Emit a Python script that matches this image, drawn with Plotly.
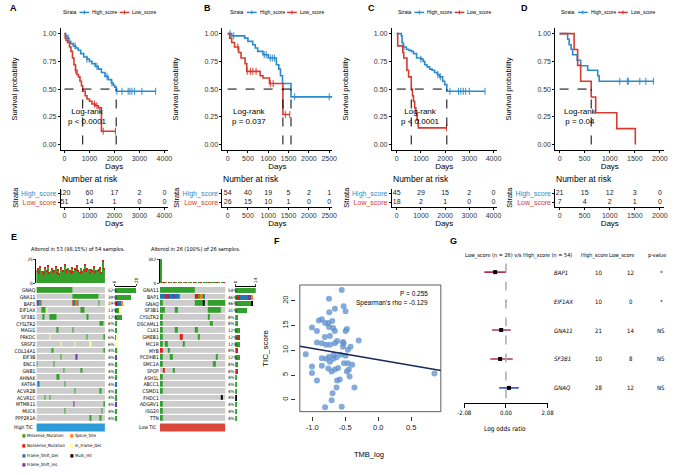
import numpy as np
import plotly.graph_objects as go

W, H = 676, 475
def fx(p): return p / W
def fy(p): return 1 - p / H

FONT = "Liberation Sans, Arial, sans-serif"
NARROW = "Liberation Sans Narrow, DejaVu Sans Condensed, Liberation Sans, sans-serif"
BLUE = "#2E8BC9"
RED = "#D63B2F"

# ---------------- survival data (A-D) ----------------
A_HIGH_T = [0, 50, 100, 180, 250, 350, 450, 550, 650, 770, 900, 1000, 1100, 1230, 1350, 1480, 1620, 1750, 1880, 1950, 2010, 2070, 3650]
A_HIGH_S = [1.0, 0.98, 0.96, 0.93, 0.91, 0.89, 0.87, 0.85, 0.82, 0.79, 0.77, 0.75, 0.73, 0.705, 0.68, 0.65, 0.615, 0.585, 0.555, 0.535, 0.518, 0.48, 0.48]
A_LOW_T = [0, 30, 60, 120, 200, 260, 320, 380, 440, 500, 560, 620, 680, 730, 830, 900, 1000, 1100, 1250, 1360, 1480, 2040]
A_LOW_S = [1.0, 0.96, 0.94, 0.92, 0.88, 0.84, 0.78, 0.72, 0.67, 0.63, 0.61, 0.57, 0.53, 0.48, 0.44, 0.41, 0.39, 0.365, 0.35, 0.33, 0.12, 0.12]
A_HIGH_CENS = [150, 420, 900, 1300, 1700, 1900, 2100, 2300, 2550, 2620, 2700, 2800, 3100, 3650]
A_LOW_CENS = [450, 1200, 1300, 1550, 2040]
A_RISK_HIGH = [120, 60, 17, 2, 0]
A_RISK_LOW = [51, 14, 1, 0, 0]
A_TICKS = [0, 1000, 2000, 3000, 4000]

B_HIGH_T = [0, 100, 420, 500, 620, 680, 740, 870, 1000, 1200, 1260, 1300, 1350, 1560, 2600]
B_HIGH_S = [1.0, 0.98, 0.96, 0.93, 0.90, 0.87, 0.84, 0.81, 0.78, 0.72, 0.68, 0.62, 0.55, 0.43, 0.43]
B_LOW_T = [0, 50, 100, 170, 270, 330, 430, 470, 750, 800, 870, 1030, 1360, 1530]
B_LOW_S = [1.0, 0.96, 0.92, 0.88, 0.83, 0.78, 0.73, 0.66, 0.66, 0.62, 0.60, 0.55, 0.27, 0.27]
B_HIGH_CENS = [60, 150, 900, 950, 1050, 1100, 1150, 1650, 2500, 2600]
B_LOW_CENS = [250, 480, 560, 620, 700, 1050, 1120, 1420, 1530]
B_RISK_HIGH = [54, 40, 19, 5, 2, 1]
B_RISK_LOW = [26, 15, 10, 1, 0, 0]
B_TICKS = [0, 500, 1000, 1500, 2000, 2500]

C_HIGH_T = [0, 190, 220, 260, 400, 490, 600, 690, 820, 1000, 1090, 1160, 1250, 1360, 1460, 1565, 1680, 1770, 1900, 1980, 2070, 3650]
C_HIGH_S = [1.0, 0.98, 0.92, 0.88, 0.86, 0.85, 0.84, 0.82, 0.78, 0.77, 0.75, 0.72, 0.70, 0.68, 0.67, 0.65, 0.63, 0.61, 0.57, 0.54, 0.48, 0.48]
C_LOW_T = [0, 40, 250, 290, 420, 490, 600, 650, 690, 740, 790, 840, 890, 2060]
C_LOW_S = [1.0, 0.89, 0.83, 0.78, 0.67, 0.61, 0.50, 0.44, 0.39, 0.33, 0.28, 0.22, 0.15, 0.15]
C_HIGH_CENS = [300, 1000, 1700, 1800, 2200, 2550, 2650, 2750, 2850, 3000, 3650]
C_LOW_CENS = [2060]
C_RISK_HIGH = [45, 29, 15, 2, 0]
C_RISK_LOW = [18, 2, 1, 0, 0]
C_TICKS = [0, 1000, 2000, 3000, 4000]

D_HIGH_T = [0, 160, 190, 230, 260, 350, 420, 560, 760, 790, 1870]
D_HIGH_S = [1.0, 0.95, 0.90, 0.86, 0.81, 0.76, 0.71, 0.67, 0.62, 0.57, 0.57]
D_LOW_T = [0, 290, 360, 420, 630, 720, 1140, 1510]
D_LOW_S = [1.0, 0.857, 0.714, 0.571, 0.429, 0.286, 0.143, 0.0]
D_HIGH_CENS = [1200, 1350, 1370, 1600, 1720, 1870]
D_LOW_CENS = []
D_RISK_HIGH = [21, 15, 12, 3, 0]
D_RISK_LOW = [7, 4, 2, 1, 0]
D_TICKS = [0, 500, 1000, 1500, 2000]

PVALUES = ["p < 0.0001", "p = 0.037", "p < 0.0001", "p = 0.04"]

# ---------------- oncoplot data (E) ----------------
LEFT_GENES = ["GNAQ", "GNA11", "BAP1", "EIF1AX", "SF3B1", "CYSLTR2", "MAGI1", "PRKDC", "SRSF2", "COL14A1",
              "EIF3B", "ENC1", "GNB1", "AHNAK", "KAT6A", "ACVR2B", "ACVR1C", "MTMR11", "MUC6", "PPP2R1A"]
LEFT_SEGS = [
    [(0, 27, 'M')],
    [(28, 48, 'M')],
    [(0, 0, 'N'), (1, 1, 'D'), (2, 2, 'S'), (3, 3, 'D'), (28, 28, 'N'), (29, 29, 'M'), (30, 30, 'D'), (31, 31, 'S'), (32, 32, 'D'), (49, 49, 'M')],
    [(4, 6, 'M'), (8, 8, 'F'), (35, 37, 'M')],
    [(5, 5, 'M'), (10, 15, 'M'), (39, 40, 'M')],
    [(50, 52, 'M')],
    [(16, 16, 'M'), (28, 28, 'M')],
    [(10, 10, 'F'), (39, 39, 'M'), (53, 53, 'M')],
    [(19, 19, 'F'), (30, 30, 'F'), (42, 42, 'F')],
    [(12, 12, 'M'), (53, 53, 'M')],
    [(19, 19, 'M'), (31, 31, 'I')],
    [(0, 0, 'M'), (13, 13, 'M')],
    [(21, 21, 'M'), (35, 35, 'M')],
    [(16, 17, 'M')],
    [(1, 1, 'D'), (22, 22, 'M')],
    [(30, 30, 'M'), (50, 50, 'M')],
    [(6, 6, 'M'), (10, 10, 'M')],
    [(29, 29, 'I'), (53, 53, 'M')],
    [(22, 22, 'M'), (51, 51, 'M')],
    [(42, 42, 'M'), (50, 50, 'M')],
]
LEFT_N = 54
LEFT_TMB_MISSENSE = [12, 14, 10, 16, 13, 11, 9, 15, 12, 17, 10, 13, 14, 11, 12, 16, 10, 13, 9, 15, 14, 12, 18, 11, 13, 16, 12,
                     10, 15, 11, 14, 13, 17, 12, 10, 16, 11, 13, 18, 12, 14, 15, 10, 13, 12, 16, 11, 14, 12, 13, 15, 10, 22, 14]
LEFT_TMB_OTHER = [2, 1, 3, 1, 0, 2, 1, 2, 1, 1, 2, 0, 1, 2, 1, 1, 2, 1, 1, 2, 0, 1, 1, 2, 1, 0, 2,
                  3, 1, 2, 1, 1, 2, 1, 1, 0, 2, 1, 1, 1, 2, 0, 1, 1, 2, 1, 1, 0, 2, 1, 1, 1, 2, 1]

RIGHT_GENES = ["GNA11", "BAP1", "GNAQ", "SF3B1", "CYSLTR2", "DSCAML1", "CLK1", "GMEB1", "MC1R", "MYB",
               "PCDHB1", "SMC1A", "SPOP", "ASH1L", "ABCC1", "CSMD1", "FHDC1", "ADGRV1", "ISG20", "TTN"]
RIGHT_SEGS = [
    [(0, 13, 'M')],
    [(0, 1, 'D'), (2, 2, 'N'), (3, 3, 'I'), (4, 4, 'D'), (5, 5, 'I'), (6, 7, 'D'), (14, 14, 'N'), (15, 15, 'M'), (16, 16, 'S'), (17, 17, 'D')],
    [(0, 0, 'M'), (14, 16, 'M'), (17, 17, 'H'), (19, 25, 'M')],
    [(0, 1, 'M'), (6, 6, 'M'), (19, 23, 'M')],
    [(0, 0, 'M'), (19, 19, 'M')],
    [(0, 0, 'M'), (20, 20, 'M')],
    [(0, 0, 'M'), (6, 6, 'M'), (14, 14, 'M')],
    [(0, 0, 'M'), (8, 8, 'N'), (15, 15, 'M')],
    [(0, 0, 'M'), (2, 2, 'M'), (9, 9, 'M')],
    [(0, 0, 'N'), (3, 3, 'M')],
    [(0, 0, 'M'), (4, 4, 'M'), (22, 22, 'M')],
    [(0, 0, 'M'), (21, 21, 'M')],
    [(1, 1, 'N'), (5, 5, 'M')],
    [(0, 0, 'M')],
    [(0, 0, 'M')],
    [(0, 0, 'M')],
    [(24, 24, 'H')],
    [(0, 0, 'M')],
    [(0, 0, 'M')],
    [(0, 0, 'M')],
]
RIGHT_N = 26
RIGHT_TMB_MISSENSE = [290, 8, 5, 6, 4, 7, 5, 6, 4, 5, 6, 4, 5, 7, 6, 5, 4, 6, 5, 4, 6, 5, 7, 4, 5, 6]
RIGHT_TMB_OTHER = [12, 1, 0, 1, 0, 1, 0, 0, 1, 0, 1, 0, 0, 1, 0, 0, 1, 0, 0, 1, 0, 0, 1, 0, 0, 1]

VAR_CODES = ['M', 'N', 'D', 'I', 'S', 'F', 'H']
VAR_NAMES = ["Missense_Mutation", "Nonsense_Mutation", "Frame_Shift_Del", "Frame_Shift_Ins",
             "Splice_Site", "In_Frame_Del", "Multi_Hit"]
VAR_COLORS = ["#33A02C", "#E31A1C", "#1F78B4", "#6A3D9A", "#FF7F00", "#FFFF99", "#000000"]
NONE_COLOR = "#CCCCCC"

# ---------------- scatter data (F) ----------------
F_TMB_LOG = [-0.554, -0.747, -0.658, -0.743, -0.525, -0.495, -0.856, -0.807, -0.757, -0.698, -0.747, -0.683, -0.658,
             -0.811, -0.733, -0.856, -0.792, -0.733, -0.658, -0.624, -0.535, -0.525, -0.475, -0.495, -0.42, -0.297,
             -0.535, -0.46, -0.495, -0.569, -0.633, -0.673, -0.743, -0.792, -0.856, -0.733, -0.683, -0.856, -0.757,
             -0.707, -0.658, -0.609, -0.52, -0.46, -0.395, -0.446, -0.435, -0.475, -0.584, -0.624, -0.633, -0.693,
             -0.707, -0.807, -0.554, -0.361, 0.853, -1.005, -0.93, -0.93, -1.10, -1.005, -1.005, -0.93, -0.90]
F_TIC_SCORE = [22.2, 20.4, 18.4, 17.7, 18.9, 17.9, 16.3, 15.5, 15.5, 15.9, 14.7, 14.5, 13.9,
               12.7, 12.9, 11.4, 11.1, 11.1, 11.4, 11.9, 11.7, 11.4, 14.3, 13.9, 10.7, 12.0,
               10.7, 10.1, 8.9, 9.1, 8.6, 9.1, 8.7, 8.3, 8.4, 7.7, 8.3, 6.9, 6.3,
               5.7, 6.1, 6.4, 7.4, 7.4, 7.1, 6.1, 4.7, 5.7, 4.1, 3.9, 2.5, 1.3,
               -0.1, -1.5, -1.4, 2.5, 5.3, 14.6, 13.9, 11.6, 9.2, 6.7, 5.4, 3.9, 16.0]
F_FIT_SLOPE = -2.29
F_FIT_INTERCEPT = 8.07
F_XRANGE = [-1.19, 0.95]

# ---------------- forest data (G) ----------------
G_GENES = ["BAP1", "EIF1AX", "GNA11", "SF3B1", "GNAQ"]
G_EST = [-0.54, 2.17, -0.24, -0.29, 0.15]
G_LO = [-1.08, -0.03, -0.69, -0.78, -0.34]
G_HI = [0.0, 0.03, 0.24, 0.34, 0.64]
G_HIGH = [10, 10, 21, 10, 28]
G_LOW = [12, 0, 14, 8, 12]
G_P = ["*", "*", "NS", "NS", "NS"]
G_COLORS = ["#B0325A", "#3B5FC0", "#B0325A", "#B0325A", "#3B5FC0"]

# =====================================================
fig = go.Figure()
layout = {}
annotations = []
shapes = []

def axn(n, kind):
    return kind + ('' if n == 1 else str(n))

def lkey(n, kind):
    return kind + 'axis' + ('' if n == 1 else str(n))

def step_at(T, S, t):
    v = S[0]
    for ti, si in zip(T, S):
        if ti <= t:
            v = si
    return v

def median_time(T, S):
    for ti, si in zip(T, S):
        if si <= 0.5:
            return ti
    return None

def ann(x, y, text, size=7, xanchor='center', yanchor='middle', xref='paper', yref='paper', font=FONT,
        color='black', textangle=0):
    annotations.append(dict(x=x, y=y, text=text, xref=xref, yref=yref, showarrow=False, xanchor=xanchor,
                            yanchor=yanchor, textangle=textangle, font=dict(size=size, family=font, color=color)))

SURV = [
    dict(lab='A', labx=1, k=1, xl=55, xr=164, rng=(-145, 4129), ticks=A_TICKS, hT=A_HIGH_T, hS=A_HIGH_S, lT=A_LOW_T,
         lS=A_LOW_S, hC=A_HIGH_CENS, lC=A_LOW_CENS, rh=A_RISK_HIGH, rl=A_RISK_LOW, pv=PVALUES[0], px=80, leg=55),
    dict(lab='B', labx=199, k=3, xl=220, xr=332, rng=(-128, 2572), ticks=B_TICKS, hT=B_HIGH_T, hS=B_HIGH_S, lT=B_LOW_T,
         lS=B_LOW_S, hC=B_HIGH_CENS, lC=B_LOW_CENS, rh=B_RISK_HIGH, rl=B_RISK_LOW, pv=PVALUES[1], px=60, leg=226),
    dict(lab='C', labx=367, k=5, xl=393, xr=500, rng=(-202, 4130), ticks=C_TICKS, hT=C_HIGH_T, hS=C_HIGH_S, lT=C_LOW_T,
         lS=C_LOW_S, hC=C_HIGH_CENS, lC=C_LOW_CENS, rh=C_RISK_HIGH, rl=C_RISK_LOW, pv=PVALUES[2], px=80, leg=397),
    dict(lab='D', labx=523, k=7, xl=560, xr=671, rng=(-84, 2084), ticks=D_TICKS, hT=D_HIGH_T, hS=D_HIGH_S, lT=D_LOW_T,
         lS=D_LOW_S, hC=D_HIGH_CENS, lC=D_LOW_CENS, rh=D_RISK_HIGH, rl=D_RISK_LOW, pv=PVALUES[3], px=50, leg=564),
]

for P in SURV:
    k = P['k']
    xs, ys = axn(k, 'x'), axn(k, 'y')
    xr_, yr_ = axn(k + 1, 'x'), axn(k + 1, 'y')
    common_x = dict(domain=[fx(P['xl']), fx(P['xr'])], range=list(P['rng']), tickvals=P['ticks'],
                    showline=True, linecolor='black', linewidth=1, ticks='outside', ticklen=2, tickcolor='black',
                    tickfont=dict(size=7, family=FONT, color='#333'), showgrid=False, zeroline=False,
                    title=dict(text='Days', font=dict(size=8, family=FONT), standoff=0))
    layout[lkey(k, 'x')] = dict(common_x, anchor=ys)
    layout[lkey(k, 'y')] = dict(domain=[fy(149.6), fy(26.4)], range=[-0.05, 1.05], anchor=xs,
                                tickvals=[0, 0.25, 0.5, 0.75, 1.0], ticktext=['0.00', '0.25', '0.50', '0.75', '1.00'],
                                showline=True, linecolor='black', linewidth=1, ticks='outside', ticklen=2,
                                tickcolor='black', tickfont=dict(size=7, family=FONT, color='#333'),
                                showgrid=False, zeroline=False,
                                title=dict(text='Survival probability', font=dict(size=7.5, family=FONT), standoff=24))
    layout[lkey(k + 1, 'x')] = dict(common_x, anchor=yr_)
    layout[lkey(k + 1, 'y')] = dict(domain=[fy(207), fy(188.5)], range=[0.5, 2.5], anchor=xr_,
                                    tickvals=[1, 2],
                                    ticktext=[f"<span style='color:{RED}'>Low_score</span>",
                                              f"<span style='color:{BLUE}'>High_score</span>"],
                                    showline=True, linecolor='black', linewidth=1, ticks='outside', ticklen=2,
                                    tickcolor='black', tickfont=dict(size=7, family=FONT),
                                    showgrid=False, zeroline=False,
                                    title=dict(text='Strata', font=dict(size=7.5, family=FONT), standoff=1))
    for T, S, C, col in [(P['hT'], P['hS'], P['hC'], BLUE), (P['lT'], P['lS'], P['lC'], RED)]:
        fig.add_trace(go.Scatter(x=T, y=S, mode='lines', line=dict(color=col, width=1.6, shape='hv'),
                                 xaxis=xs, yaxis=ys, showlegend=False, hoverinfo='skip'))
        if C:
            fig.add_trace(go.Scatter(x=C, y=[step_at(T, S, t) for t in C], mode='markers',
                                     marker=dict(symbol='line-ns', size=5, line=dict(color=col, width=1)),
                                     xaxis=xs, yaxis=ys, showlegend=False, hoverinfo='skip'))
    meds = [m for m in [median_time(P['hT'], P['hS']), median_time(P['lT'], P['lS'])] if m is not None]
    if meds:
        fig.add_trace(go.Scatter(x=[0, max(meds)], y=[0.5, 0.5], mode='lines',
                                 line=dict(color='black', width=1, dash='dash'),
                                 xaxis=xs, yaxis=ys, showlegend=False, hoverinfo='skip'))
        for m in meds:
            fig.add_trace(go.Scatter(x=[m, m], y=[0, 0.5], mode='lines',
                                     line=dict(color='black', width=1, dash='dash'),
                                     xaxis=xs, yaxis=ys, showlegend=False, hoverinfo='skip'))
    ann(P['px'], 0.25, 'Log-rank<br>' + P['pv'], size=8, xanchor='left', xref=xs, yref=ys)
    fig.add_trace(go.Scatter(x=P['ticks'], y=[2] * len(P['ticks']), text=[str(v) for v in P['rh']], mode='text',
                             textfont=dict(size=7, family=FONT, color='#222'), xaxis=xr_, yaxis=yr_,
                             showlegend=False, hoverinfo='skip'))
    fig.add_trace(go.Scatter(x=P['ticks'], y=[1] * len(P['ticks']), text=[str(v) for v in P['rl']], mode='text',
                             textfont=dict(size=7, family=FONT, color='#222'), xaxis=xr_, yaxis=yr_,
                             showlegend=False, hoverinfo='skip'))
    ann(fx(P['xl'] - 1), fy(179), 'Number at risk', size=8.5, xanchor='left')
    ann(fx(P['labx']), fy(6), '<b>' + P['lab'] + '</b>', size=9, xanchor='left')
    L = P['leg']
    ann(fx(L), fy(10.5), 'Strata', size=5, xanchor='left')
    for off, col, txt in [(19, BLUE, 'High_score'), (60, RED, 'Low_score')]:
        shapes.append(dict(type='line', xref='paper', yref='paper', x0=fx(L + off), x1=fx(L + off + 10),
                           y0=fy(10.5), y1=fy(10.5), line=dict(color=col, width=1.5)))
        shapes.append(dict(type='line', xref='paper', yref='paper', x0=fx(L + off + 5), x1=fx(L + off + 5),
                           y0=fy(8.5), y1=fy(12.5), line=dict(color=col, width=1)))
        ann(fx(L + off + 11), fy(10.5), txt, size=5, xanchor='left')

# =============== E: oncoplots ===============
def build_matrix(segs, n):
    z = []
    for row in segs:
        r = [0] * n
        for a, b, c in row:
            for j in range(a, b + 1):
                r[j] = VAR_CODES.index(c) + 1
        z.append(r)
    return z

cs = []
allc = [NONE_COLOR] + VAR_COLORS
for i, c in enumerate(allc):
    cs.append([i / len(allc), c])
    cs.append([(i + 1) / len(allc), c])

def oncoplot(kbar, kmat, kside, genes, segs, n, tmb_m, tmb_o, xl, xr, sl, sr, tmax, smax, title, tx, grp, grpcol):
    xb, yb = axn(kbar, 'x'), axn(kbar, 'y')
    xm, ym = axn(kmat, 'x'), axn(kmat, 'y')
    xsd, ysd = axn(kside, 'x'), axn(kside, 'y')
    samples = list(range(n))
    layout[lkey(kbar, 'x')] = dict(domain=[fx(xl), fx(xr)], range=[-0.5, n - 0.5], visible=False, anchor=yb)
    layout[lkey(kbar, 'y')] = dict(domain=[fy(284), fy(260)], range=[0, tmax], anchor=xb, tickvals=[0, tmax],
                                   showline=True, linecolor='black', linewidth=0.8, ticks='outside', ticklen=2,
                                   tickfont=dict(size=4.5, family=NARROW), showgrid=False, zeroline=False)
    fig.add_trace(go.Bar(x=samples, y=tmb_m, marker=dict(color=VAR_COLORS[0], line=dict(width=0)), width=0.85,
                         xaxis=xb, yaxis=yb, showlegend=False, hoverinfo='skip'))
    fig.add_trace(go.Bar(x=samples, y=tmb_o, marker=dict(color=VAR_COLORS[1], line=dict(width=0)), width=0.85,
                         xaxis=xb, yaxis=yb, showlegend=False, hoverinfo='skip'))
    z = build_matrix(segs, n)
    layout[lkey(kmat, 'x')] = dict(domain=[fx(xl), fx(xr)], range=[-0.5, n - 0.5], visible=False, anchor=ym)
    layout[lkey(kmat, 'y')] = dict(domain=[fy(424), fy(288)], range=[len(genes) - 0.5, -0.5], anchor=xm,
                                   tickvals=list(range(len(genes))), ticktext=genes, ticks='', ticklen=0,
                                   tickfont=dict(size=5, family=NARROW), showgrid=False, zeroline=False)
    fig.add_trace(go.Heatmap(z=z, x=samples, y=list(range(len(genes))), colorscale=cs, zmin=-0.5,
                             zmax=len(allc) - 0.5, showscale=False, xgap=0, ygap=1.2,
                             xaxis=xm, yaxis=ym, hoverinfo='skip'))
    counts = [[sum(1 for v in row if v == ci + 1) for row in z] for ci in range(len(VAR_CODES))]
    tot = [sum(1 for v in row if v > 0) for row in z]
    for gi, t in enumerate(tot):
        ann(fx(xr + 1), gi, f"{round(100 * t / n)}%", size=4.5, xanchor='left', yref=ym, font=NARROW)
    layout[lkey(kside, 'x')] = dict(domain=[fx(sl), fx(sr)], range=[0, smax], side='top', anchor=ysd,
                                    tickvals=[0, smax], showline=True, linecolor='black', linewidth=0.8,
                                    ticks='outside', ticklen=2, tickangle=-90,
                                    tickfont=dict(size=4.5, family=NARROW), showgrid=False, zeroline=False)
    layout[lkey(kside, 'y')] = dict(domain=[fy(424), fy(288)], range=[len(genes) - 0.5, -0.5], visible=False,
                                    anchor=xsd)
    for ci in range(len(VAR_CODES)):
        fig.add_trace(go.Bar(x=counts[ci], y=list(range(len(genes))), orientation='h', width=0.75,
                             marker=dict(color=VAR_COLORS[ci], line=dict(width=0)),
                             xaxis=xsd, yaxis=ysd, showlegend=False, hoverinfo='skip'))
    ann(fx(tx), fy(250), title, size=5.5, font=NARROW)
    shapes.append(dict(type='rect', xref=xm, yref='paper', x0=-0.5, x1=n - 0.5, y0=fy(434), y1=fy(426),
                       fillcolor=grpcol, line=dict(width=0)))
    ann(fx(xl - 1), fy(430), grp, size=5, xanchor='right', font=NARROW)

oncoplot(9, 10, 11, LEFT_GENES, LEFT_SEGS, LEFT_N, LEFT_TMB_MISSENSE, LEFT_TMB_OTHER, 30, 100, 110, 132, 25, 28,
         "Altered in 53 (98.15%) of 54 samples.", 73, "High TIC", "#2D9BD8")
oncoplot(12, 13, 14, RIGHT_GENES, RIGHT_SEGS, RIGHT_N, RIGHT_TMB_MISSENSE, RIGHT_TMB_OTHER, 156, 223, 233, 254, 302, 14,
         "Altered in 26 (100%) of 26 samples.", 193, "Low TIC", "#D9473A")
ann(fx(2), fy(237), '<b>E</b>', size=9, xanchor='left')

LEG_ITEMS = [(0, 0, 0), (4, 1, 0), (1, 0, 1), (5, 1, 1), (2, 0, 2), (6, 1, 2), (3, 0, 3)]
for vi, colx, rowy in LEG_ITEMS:
    x0 = [13, 62][colx]
    y0 = [439, 449, 458.5, 467.5][rowy]
    ann(fx(x0), fy(y0), f"<span style='color:{VAR_COLORS[vi]}'>■</span> {VAR_NAMES[vi]}", size=4.3,
        xanchor='left', font=NARROW)

# =============== F: scatter ===============
layout['xaxis15'] = dict(domain=[fx(299), fx(443)], range=F_XRANGE, anchor='free', position=fy(418),
                         tickvals=[-1, -0.5, 0, 0.5], ticktext=['-1.0', '-0.5', '0.0', '0.5'], ticks='outside',
                         ticklen=4, tickcolor='#333', showline=False, showgrid=False, zeroline=False,
                         tickfont=dict(size=7.5, family=FONT, color='#222'))
layout['yaxis15'] = dict(domain=[fy(414), fy(286)], range=[-2.4, 23.2], anchor='free', position=fx(294),
                         tickvals=[0, 5, 10, 15, 20], ticks='outside', ticklen=4, tickcolor='#333', tickangle=-90,
                         showline=False, showgrid=False, zeroline=False,
                         tickfont=dict(size=7.5, family=FONT, color='#222'))
fig.add_trace(go.Scatter(x=F_TMB_LOG, y=F_TIC_SCORE, mode='markers',
                         marker=dict(size=6, color='rgba(98,146,206,0.78)', line=dict(width=0)),
                         xaxis='x15', yaxis='y15', showlegend=False, hoverinfo='skip'))
fig.add_trace(go.Scatter(x=F_XRANGE, y=[F_FIT_INTERCEPT + F_FIT_SLOPE * v for v in F_XRANGE], mode='lines',
                         line=dict(color='#1A2857', width=1.5), xaxis='x15', yaxis='y15', showlegend=False,
                         hoverinfo='skip'))
shapes.append(dict(type='rect', xref='x15 domain', yref='y15 domain', x0=0, x1=1, y0=0, y1=1,
                   line=dict(color='#333', width=0.8)))
ann(fx(432), fy(295), 'P = 0.255', size=6.5, xanchor='right')
ann(fx(432), fy(304), "Spearman's rho = -0.129", size=6.5, xanchor='right')
ann(fx(264), fy(350), 'TIC_score', size=8, textangle=-90)
ann(fx(370), fy(457), 'TMB_log', size=7.5)
ann(fx(271), fy(242), '<b>F</b>', size=9, xanchor='left')

# =============== G: forest ===============
gy = [5, 4, 3, 2, 1]
layout['xaxis16'] = dict(domain=[fx(467), fx(552)], range=[-2.08, 2.08], anchor='y16',
                         tickvals=[-2.08, 0, 2.08], ticktext=['-2.08', '0.00', '2.08'], ticks='outside', ticklen=4,
                         tickcolor='black', showline=True, linecolor='black', linewidth=1.2, showgrid=False,
                         zeroline=False, tickfont=dict(size=6, family=NARROW))
layout['yaxis16'] = dict(domain=[fy(405), fy(262)], range=[0.487, 5.376], anchor='x16', visible=False)
shapes.append(dict(type='line', xref='x16', yref='y16 domain', x0=0, x1=0, y0=0.03, y1=1,
                   line=dict(color='#AAAAAA', width=1.5, dash='dash')))
for i in range(len(G_GENES)):
    fig.add_trace(go.Scatter(x=[G_LO[i], G_HI[i]], y=[gy[i], gy[i]], mode='lines',
                             line=dict(color=G_COLORS[i], width=1.6), xaxis='x16', yaxis='y16',
                             showlegend=False, hoverinfo='skip'))
fig.add_trace(go.Scatter(x=G_EST, y=gy, mode='markers', marker=dict(color='black', size=4, symbol='square'),
                         xaxis='x16', yaxis='y16', showlegend=False, hoverinfo='skip', cliponaxis=False))
for i, g in enumerate(G_GENES):
    ann(fx(557), gy[i], f"<i>{g}</i>", size=6, xanchor='left', yref='y16', font=NARROW)
    ann(fx(604), gy[i], str(G_HIGH[i]), size=6, yref='y16', font=NARROW)
    ann(fx(637), gy[i], str(G_LOW[i]), size=6, yref='y16', font=NARROW)
    ann(fx(668), gy[i], G_P[i], size=6, yref='y16', font=NARROW)
ann(fx(522), fy(256), 'Low_score (n = 26) v/s High_score (n = 54)', size=5.5, font=NARROW)
ann(fx(600), fy(256), 'High_score', size=5.5, font=NARROW)
ann(fx(628), fy(256), 'Low_score', size=5.5, font=NARROW)
ann(fx(664), fy(256), 'p-value', size=5.5, font=NARROW)
ann(fx(509), fy(432), 'Log odds ratio', size=6.5, font=NARROW)
ann(fx(450), fy(242), '<b>G</b>', size=9, xanchor='left')

fig.update_layout(**layout)
fig.update_layout(width=W, height=H, margin=dict(l=0, r=0, t=0, b=0), paper_bgcolor='white',
                  plot_bgcolor='rgba(0,0,0,0)', barmode='stack', bargap=0.1, showlegend=False,
                  annotations=annotations, shapes=shapes, font=dict(family=FONT, color='black'))
fig.write_html("out.html", config={'displayModeBar': False},
               post_script="document.body.style.margin='0';document.body.style.overflow='hidden';")
